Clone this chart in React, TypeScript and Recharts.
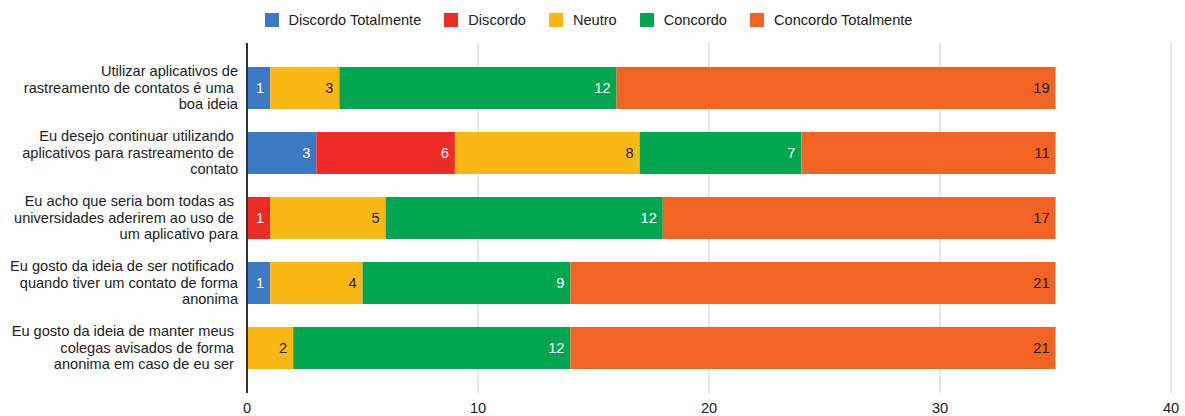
import React from 'react';
import { BarChart, Bar, XAxis, YAxis, CartesianGrid, LabelList } from 'recharts';

const categories = [
  'Utilizar aplicativos de rastreamento de contatos é uma boa ideia',
  'Eu desejo continuar utilizando aplicativos para rastreamento de contato',
  'Eu acho que seria bom todas as universidades aderirem ao uso de um aplicativo para',
  'Eu gosto da ideia de ser notificado quando tiver um contato de forma anonima',
  'Eu gosto da ideia de manter meus colegas avisados de forma anonima em caso de eu ser',
];

const categoryLines: string[][] = [
  ['Utilizar aplicativos de', 'rastreamento de contatos é uma ', 'boa ideia'],
  ['Eu desejo continuar utilizando ', 'aplicativos para rastreamento de ', 'contato'],
  ['Eu acho que seria bom todas as ', 'universidades aderirem ao uso de ', 'um aplicativo para'],
  ['Eu gosto da ideia de ser notificado ', 'quando tiver um contato de forma', 'anonima'],
  ['Eu gosto da ideia de manter meus ', 'colegas avisados de forma ', 'anonima em caso de eu ser '],
];

const discordoTotalmente = [1, 3, 0, 1, 0];
const discordo = [0, 6, 1, 0, 0];
const neutro = [3, 8, 5, 4, 2];
const concordo = [12, 7, 12, 9, 12];
const concordoTotalmente = [19, 11, 17, 21, 21];

const xTicks = [0, 10, 20, 30, 40];

const series = [
  { key: 'dt', name: 'Discordo Totalmente', values: discordoTotalmente, color: '#3d7ac4', label: '#ffffff' },
  { key: 'd', name: 'Discordo', values: discordo, color: '#ee2c27', label: '#ffffff' },
  { key: 'n', name: 'Neutro', values: neutro, color: '#fbb714', label: '#222222' },
  { key: 'c', name: 'Concordo', values: concordo, color: '#00a650', label: '#ffffff' },
  { key: 'ct', name: 'Concordo Totalmente', values: concordoTotalmente, color: '#f26324', label: '#222222' },
];

const data = categories.map((name, i) => {
  const row: Record<string, any> = { name, idx: i };
  series.forEach((s) => {
    row[s.key] = s.values[i];
  });
  return row;
});

const FONT = '"Liberation Sans", Arial, sans-serif';
const FS = 14.6;

const YTick = (props: any) => {
  const { x, y, payload } = props;
  const idx = categories.indexOf(payload.value);
  const lines = categoryLines[idx] || [payload.value];
  const lh = 16.4;
  const start = y - ((lines.length - 1) * lh) / 2;
  return (
    <g>
      {lines.map((l, i) => (
        <text
          key={i}
          x={x}
          y={start + i * lh}
          dy="0.36em"
          textAnchor="end"
          fill="#222222"
          fontSize={FS}
          fontFamily={FONT}
          style={{ whiteSpace: 'pre' }}
        >
          {l}
        </text>
      ))}
    </g>
  );
};

const LegendOverlay = () => (
  <div
    style={{
      position: 'absolute',
      top: 12,
      left: 0,
      width: 1185,
      display: 'flex',
      justifyContent: 'center',
      fontFamily: FONT,
      fontSize: FS,
      color: '#222222',
      paddingRight: 8,
      boxSizing: 'border-box',
    }}
  >
    {series.map((s, i) => (
      <div key={s.key} style={{ display: 'flex', alignItems: 'center', marginLeft: i === 0 ? 0 : 23, height: 16 }}>
        <span style={{ display: 'inline-block', width: 14, height: 14, background: s.color, marginRight: 10 }} />
        <span>{s.name}</span>
      </div>
    ))}
  </div>
);

export default function App() {
  return (
    <div style={{ position: 'absolute', top: 0, left: 0, width: 1185, height: 416, background: '#fff', overflow: 'hidden' }}>
      <LegendOverlay />
      <BarChart
        width={1185}
        height={416}
        data={data}
        layout="vertical"
        margin={{ top: 43, right: 14, bottom: 0, left: 0 }}
      >
        <CartesianGrid horizontal={false} stroke="#cccccc" />
        <XAxis
          type="number"
          domain={[0, 40]}
          ticks={xTicks}
          axisLine={false}
          tickLine={false}
          tickSize={0}
          tickMargin={10}
          height={23}
          tick={{ fill: '#222222', fontSize: FS, fontFamily: FONT }}
          interval={0}
        />
        <YAxis
          type="category"
          dataKey="name"
          width={247}
          axisLine={{ stroke: '#333333', strokeWidth: 2 }}
          tickLine={false}
          tickSize={0}
          tickMargin={9}
          padding={{ top: 12, bottom: 13 }}
          tick={<YTick />}
          interval={0}
        />
        {series.map((s) => (
          <Bar key={s.key} dataKey={s.key} name={s.name} stackId="a" fill={s.color} barSize={42} isAnimationActive={false}>
            <LabelList
              dataKey={s.key}
              position="insideRight"
              offset={6}
              fill={s.label}
              fontSize={FS}
              fontFamily={FONT}
              formatter={(v: any) => (v === 0 ? '' : v)}
            />
          </Bar>
        ))}
      </BarChart>
    </div>
  );
}
